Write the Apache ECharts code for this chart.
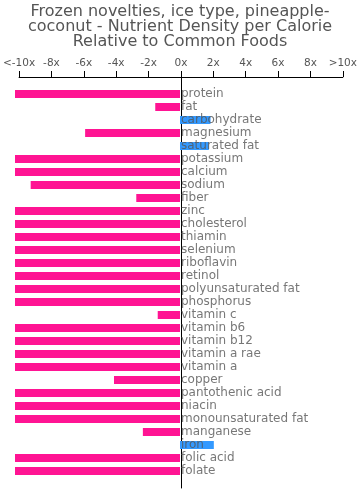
<!DOCTYPE html>
<html>
<head>
<meta charset="utf-8">
<script src="https://cdn.jsdelivr.net/npm/echarts@6/dist/echarts.min.js"></script>
<style>html,body{margin:0;padding:0;background:#fff}#c{width:360px;height:498px}</style>
</head>
<body>
<div id="c"></div>
<script>
var titleText = "Frozen novelties, ice type, pineapple-\ncoconut - Nutrient Density per Calorie\nRelative to Common Foods";
var categories = ["protein","fat","carbohydrate","magnesium","saturated fat","potassium","calcium","sodium","fiber","zinc","cholesterol","thiamin","selenium","riboflavin","retinol","polyunsaturated fat","phosphorus","vitamin c","vitamin b6","vitamin b12","vitamin a rae","vitamin a","copper","pantothenic acid","niacin","monounsaturated fat","manganese","iron","folic acid","folate"];
var values = [-10,-1.5,1.85,-5.75,1.75,-10,-10,-9.05,-2.65,-10,-10,-10,-10,-10,-10,-10,-10,-1.35,-10,-10,-10,-10,-4,-10,-10,-10,-2.25,2.05,-10,-10];
var tickLabels = {"-10":"<-10x","-8":"-8x","-6":"-6x","-4":"-4x","-2":"-2x","0":"0x","2":"2x","4":"4x","6":"6x","8":"8x","10":">10x"};

var chart = echarts.init(document.getElementById('c'), null, {renderer:'canvas'});
var font = 'DejaVu Sans';
var labelAnchors = categories.map(function(c, i){return {value:[0, i], name:c};});
chart.setOption({
  animation:false,
  backgroundColor:'#fff',
  title:{text:titleText,left:'center',top:-1,textStyle:{fontFamily:font,fontSize:16,fontWeight:'normal',color:'#555',lineHeight:15}},
  grid:[
    {left:15,right:15,top:77,bottom:10},
    {left:15,right:15,top:87.5,bottom:20.5}
  ],
  xAxis:[
    {type:'value',gridIndex:0,position:'top',min:-10,max:10,interval:2,
     axisLine:{show:true,onZero:false,lineStyle:{color:'#000',width:1}},
     axisTick:{show:true,length:6,lineStyle:{color:'#000'}},
     splitLine:{show:false},
     axisLabel:{margin:8,fontFamily:font,fontSize:10.5,color:'#555',formatter:function(v){return tickLabels[String(v)];}}},
    {type:'value',gridIndex:1,min:-10,max:10,show:false}
  ],
  yAxis:[
    {type:'value',gridIndex:0,min:0,max:1,axisLine:{show:true,onZero:true,lineStyle:{color:'#000',width:1}},
     axisTick:{show:false},axisLabel:{show:false},splitLine:{show:false}},
    {type:'category',gridIndex:1,data:categories,inverse:true,show:false}
  ],
  series:[{
    type:'bar',xAxisIndex:1,yAxisIndex:1,data:values,barWidth:8,z:1,
    itemStyle:{color:function(p){return p.value<0?'#ff1493':'#3399ff';}}
  },{
    type:'scatter',xAxisIndex:1,yAxisIndex:1,data:labelAnchors,symbol:'circle',symbolSize:2,z:5,
    itemStyle:{color:'rgba(0,0,0,0)'},silent:true,
    label:{show:true,position:'right',distance:0,offset:[0,-2],fontFamily:font,fontSize:12,color:'#555',
      formatter:function(p){return p.name;}},
    labelLayout:{hideOverlap:false}
  }]
});
</script>
</body>
</html>
